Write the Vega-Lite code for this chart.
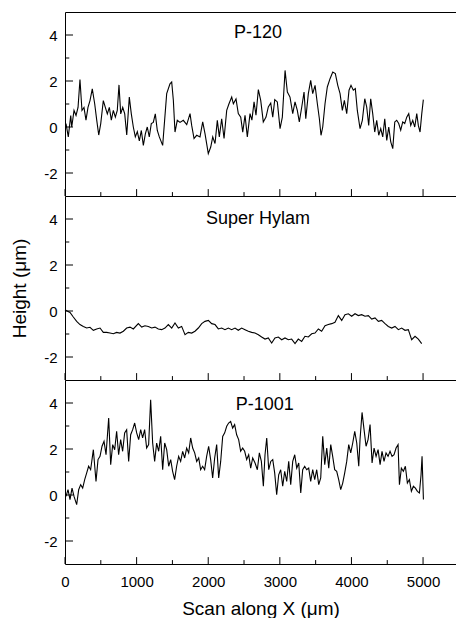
{
  "$schema": "https://vega.github.io/schema/vega-lite/v6.json",
  "padding": {"left": 10, "top": 12, "right": 0, "bottom": 0},
  "spacing": 0,
  "bounds": "flush",
  "config": {
    "view": {"stroke": null},
    "font": "Liberation Sans",
    "axis": {
      "domainColor": "black", "tickColor": "black", "labelColor": "black", "titleColor": "black",
      "labelFont": "Liberation Sans", "titleFont": "Liberation Sans",
      "labelFontSize": 15, "titleFontSize": 19, "titleFontWeight": "normal",
      "labelFlush": false, "grid": false
    },
    "line": {"color": "black", "strokeWidth": 1.1},
    "rule": {"color": "black", "strokeWidth": 1},
    "text": {"font": "Liberation Sans", "fontSize": 18, "color": "black"}
  },
  "datasets": {
    "xmajor": [{"t":0},{"t":1000},{"t":2000},{"t":3000},{"t":4000},{"t":5000}],
    "xminor": [{"t":500},{"t":1500},{"t":2500},{"t":3500},{"t":4500}],
    "ymajor": [{"v":-2},{"v":0},{"v":2},{"v":4}],
    "yminor": [{"v":-1},{"v":1},{"v":3}],
    "p120": [
      {"x":14,"h":0.15},{"x":46,"h":-0.43},{"x":80,"h":0.5},{"x":94,"h":0},{"x":126,"h":0.72},{"x":154,"h":0.5},{"x":182,"h":0.85},{"x":209,"h":2.06},{"x":237,"h":0.72},{"x":265,"h":0.85},{"x":293,"h":0.3},{"x":321,"h":0.85},{"x":349,"h":1.15},{"x":381,"h":1.66},{"x":415,"h":1.0},{"x":443,"h":0.3},{"x":471,"h":-0.35},{"x":499,"h":0.15},{"x":535,"h":1.15},{"x":563,"h":0.85},{"x":591,"h":0.57},{"x":619,"h":0.85},{"x":647,"h":0.3},{"x":675,"h":0.72},{"x":703,"h":0.43},{"x":730,"h":0.72},{"x":754,"h":1.83},{"x":778,"h":0.57},{"x":806,"h":0.85},{"x":834,"h":0.57},{"x":862,"h":-0.35},{"x":898,"h":1.3},{"x":926,"h":0.57},{"x":954,"h":0},{"x":982,"h":-0.43},{"x":1010,"h":-0.2},{"x":1038,"h":-0.6},{"x":1066,"h":-0.15},{"x":1094,"h":-0.8},{"x":1122,"h":-0.3},{"x":1149,"h":0},{"x":1177,"h":-0.43},{"x":1205,"h":0.15},{"x":1233,"h":0.2},{"x":1261,"h":0.57},{"x":1289,"h":-0.15},{"x":1317,"h":-0.43},{"x":1364,"h":-0.8},{"x":1420,"h":1.45},{"x":1466,"h":1.88},{"x":1490,"h":1.96},{"x":1513,"h":1.16},{"x":1536,"h":-0.22},{"x":1568,"h":0.29},{"x":1606,"h":0.2},{"x":1652,"h":0.29},{"x":1700,"h":0.1},{"x":1746,"h":0.58},{"x":1769,"h":0.07},{"x":1802,"h":-0.5},{"x":1839,"h":-0.36},{"x":1885,"h":-0.43},{"x":1923,"h":0.22},{"x":1955,"h":-0.29},{"x":2001,"h":-1.16},{"x":2035,"h":-0.87},{"x":2063,"h":-0.43},{"x":2095,"h":-0.72},{"x":2127,"h":0.29},{"x":2155,"h":-0.43},{"x":2188,"h":0.36},{"x":2221,"h":-0.5},{"x":2258,"h":0.72},{"x":2290,"h":1.01},{"x":2328,"h":1.3},{"x":2351,"h":1.01},{"x":2388,"h":1.22},{"x":2420,"h":0.58},{"x":2454,"h":0.43},{"x":2482,"h":-0.22},{"x":2514,"h":0.51},{"x":2546,"h":-0.43},{"x":2584,"h":0.58},{"x":2610,"h":0.3},{"x":2640,"h":1.09},{"x":2667,"h":0.51},{"x":2700,"h":1.63},{"x":2733,"h":1.16},{"x":2769,"h":0.22},{"x":2807,"h":0.43},{"x":2839,"h":0.87},{"x":2873,"h":1.04},{"x":2901,"h":0.43},{"x":2929,"h":1.19},{"x":2965,"h":1.09},{"x":3003,"h":-0.07},{"x":3035,"h":0.43},{"x":3073,"h":2.46},{"x":3105,"h":1.52},{"x":3142,"h":1.3},{"x":3180,"h":0.58},{"x":3212,"h":1.09},{"x":3244,"h":0.72},{"x":3272,"h":0.22},{"x":3306,"h":0.87},{"x":3338,"h":1.52},{"x":3362,"h":0.36},{"x":3398,"h":1.45},{"x":3431,"h":2.03},{"x":3459,"h":1.45},{"x":3492,"h":1.81},{"x":3524,"h":1.01},{"x":3552,"h":0.36},{"x":3575,"h":-0.36},{"x":3599,"h":0},{"x":3631,"h":1.01},{"x":3663,"h":1.74},{"x":3701,"h":2.1},{"x":3739,"h":2.39},{"x":3775,"h":2.32},{"x":3809,"h":1.81},{"x":3841,"h":1.45},{"x":3873,"h":0.72},{"x":3901,"h":1.16},{"x":3934,"h":0.58},{"x":3966,"h":1.6},{"x":3994,"h":1.81},{"x":4026,"h":1.6},{"x":4054,"h":1.67},{"x":4082,"h":0.72},{"x":4120,"h":-0.07},{"x":4152,"h":0.29},{"x":4186,"h":1.23},{"x":4213,"h":0.87},{"x":4241,"h":0.07},{"x":4269,"h":1.23},{"x":4297,"h":0.58},{"x":4325,"h":-0.22},{"x":4353,"h":0.29},{"x":4381,"h":-0.36},{"x":4409,"h":-0.07},{"x":4437,"h":-0.43},{"x":4465,"h":0.36},{"x":4493,"h":-0.58},{"x":4521,"h":0},{"x":4549,"h":-0.65},{"x":4577,"h":-0.94},{"x":4605,"h":0.22},{"x":4632,"h":0.29},{"x":4660,"h":0.15},{"x":4688,"h":-0.14},{"x":4716,"h":0.22},{"x":4744,"h":0.15},{"x":4772,"h":0.43},{"x":4800,"h":0.58},{"x":4828,"h":0.07},{"x":4856,"h":0.29},{"x":4884,"h":0},{"x":4912,"h":0.58},{"x":4934,"h":0.07},{"x":4958,"h":-0.22},{"x":4982,"h":0.58},{"x":5004,"h":1.19}
    ],
    "hylam": [
      {"x":0,"h":0.05},{"x":23,"h":0.01},{"x":70,"h":-0.06},{"x":116,"h":-0.26},{"x":163,"h":-0.45},{"x":209,"h":-0.59},{"x":256,"h":-0.67},{"x":303,"h":-0.74},{"x":349,"h":-0.71},{"x":396,"h":-0.84},{"x":442,"h":-0.78},{"x":489,"h":-0.74},{"x":535,"h":-0.93},{"x":582,"h":-0.93},{"x":628,"h":-0.96},{"x":675,"h":-0.99},{"x":721,"h":-0.93},{"x":768,"h":-0.96},{"x":815,"h":-0.88},{"x":861,"h":-0.74},{"x":908,"h":-0.7},{"x":954,"h":-0.78},{"x":1024,"h":-0.55},{"x":1071,"h":-0.7},{"x":1117,"h":-0.64},{"x":1164,"h":-0.67},{"x":1210,"h":-0.74},{"x":1257,"h":-0.7},{"x":1303,"h":-0.78},{"x":1350,"h":-0.81},{"x":1396,"h":-0.74},{"x":1443,"h":-0.59},{"x":1490,"h":-0.74},{"x":1536,"h":-0.52},{"x":1583,"h":-0.74},{"x":1629,"h":-0.67},{"x":1676,"h":-1.03},{"x":1722,"h":-0.93},{"x":1769,"h":-0.96},{"x":1815,"h":-0.88},{"x":1862,"h":-0.74},{"x":1909,"h":-0.55},{"x":1955,"h":-0.45},{"x":2002,"h":-0.41},{"x":2048,"h":-0.55},{"x":2095,"h":-0.59},{"x":2141,"h":-0.78},{"x":2188,"h":-0.74},{"x":2234,"h":-0.81},{"x":2281,"h":-0.74},{"x":2327,"h":-0.81},{"x":2374,"h":-0.74},{"x":2420,"h":-0.84},{"x":2467,"h":-0.74},{"x":2514,"h":-0.81},{"x":2560,"h":-0.88},{"x":2607,"h":-0.93},{"x":2653,"h":-0.96},{"x":2700,"h":-1.03},{"x":2746,"h":-1.13},{"x":2793,"h":-1.22},{"x":2839,"h":-1.17},{"x":2886,"h":-1.39},{"x":2932,"h":-1.17},{"x":2979,"h":-1.13},{"x":3026,"h":-1.25},{"x":3072,"h":-1.17},{"x":3119,"h":-1.25},{"x":3165,"h":-1.22},{"x":3212,"h":-1.42},{"x":3258,"h":-1.22},{"x":3305,"h":-1.32},{"x":3351,"h":-1.1},{"x":3398,"h":-1.13},{"x":3445,"h":-0.99},{"x":3491,"h":-0.96},{"x":3538,"h":-0.78},{"x":3584,"h":-0.88},{"x":3631,"h":-0.64},{"x":3677,"h":-0.59},{"x":3724,"h":-0.55},{"x":3770,"h":-0.49},{"x":3817,"h":-0.2},{"x":3864,"h":-0.41},{"x":3910,"h":-0.16},{"x":3957,"h":-0.12},{"x":4003,"h":-0.23},{"x":4050,"h":-0.12},{"x":4096,"h":-0.2},{"x":4143,"h":-0.16},{"x":4189,"h":-0.23},{"x":4236,"h":-0.2},{"x":4283,"h":-0.35},{"x":4329,"h":-0.3},{"x":4376,"h":-0.45},{"x":4422,"h":-0.41},{"x":4469,"h":-0.55},{"x":4515,"h":-0.67},{"x":4562,"h":-0.74},{"x":4608,"h":-0.67},{"x":4655,"h":-0.81},{"x":4701,"h":-0.74},{"x":4748,"h":-0.84},{"x":4794,"h":-0.81},{"x":4841,"h":-1.25},{"x":4888,"h":-1.1},{"x":4934,"h":-1.22},{"x":4981,"h":-1.42}
    ],
    "p1001": [
      {"x":14,"h":-0.06},{"x":42,"h":0.23},{"x":70,"h":-0.2},{"x":98,"h":0.3},{"x":126,"h":-0.06},{"x":163,"h":-0.42},{"x":191,"h":0.23},{"x":219,"h":0.45},{"x":247,"h":0.3},{"x":275,"h":0.67},{"x":303,"h":0.96},{"x":330,"h":1.25},{"x":358,"h":1.1},{"x":396,"h":1.97},{"x":433,"h":0.59},{"x":461,"h":1.54},{"x":489,"h":1.68},{"x":517,"h":2.12},{"x":545,"h":2.33},{"x":573,"h":1.75},{"x":610,"h":3.35},{"x":638,"h":1.32},{"x":666,"h":2.19},{"x":694,"h":1.97},{"x":721,"h":2.77},{"x":749,"h":1.75},{"x":777,"h":2.41},{"x":805,"h":1.9},{"x":833,"h":2.7},{"x":861,"h":2.84},{"x":889,"h":1.46},{"x":917,"h":2.62},{"x":945,"h":2.84},{"x":973,"h":3.13},{"x":1001,"h":2.7},{"x":1029,"h":2.41},{"x":1057,"h":2.84},{"x":1084,"h":2.48},{"x":1112,"h":2.84},{"x":1140,"h":2.04},{"x":1168,"h":2.19},{"x":1196,"h":4.14},{"x":1224,"h":2.26},{"x":1252,"h":1.46},{"x":1280,"h":2.26},{"x":1308,"h":1.9},{"x":1336,"h":2.55},{"x":1364,"h":1.1},{"x":1392,"h":2.26},{"x":1420,"h":1.97},{"x":1448,"h":1.25},{"x":1476,"h":1.54},{"x":1503,"h":1.03},{"x":1531,"h":0.67},{"x":1559,"h":1.25},{"x":1587,"h":1.68},{"x":1615,"h":1.46},{"x":1643,"h":1.9},{"x":1671,"h":1.61},{"x":1699,"h":2.04},{"x":1727,"h":1.83},{"x":1755,"h":2.48},{"x":1783,"h":2.04},{"x":1811,"h":1.83},{"x":1839,"h":1.46},{"x":1867,"h":1.61},{"x":1894,"h":1.1},{"x":1922,"h":1.25},{"x":1950,"h":1.1},{"x":1978,"h":1.68},{"x":2006,"h":2.12},{"x":2034,"h":1.54},{"x":2062,"h":0.74},{"x":2090,"h":1.61},{"x":2118,"h":2.19},{"x":2146,"h":0.74},{"x":2174,"h":1.46},{"x":2202,"h":2.55},{"x":2230,"h":2.7},{"x":2258,"h":2.99},{"x":2285,"h":3.13},{"x":2313,"h":3.2},{"x":2341,"h":2.91},{"x":2369,"h":3.06},{"x":2397,"h":2.62},{"x":2425,"h":2.41},{"x":2453,"h":1.9},{"x":2481,"h":2.04},{"x":2509,"h":1.9},{"x":2537,"h":1.54},{"x":2565,"h":1.75},{"x":2593,"h":1.17},{"x":2621,"h":1.61},{"x":2654,"h":1.39},{"x":2686,"h":1.1},{"x":2714,"h":1.83},{"x":2742,"h":1.46},{"x":2770,"h":0.38},{"x":2793,"h":1.75},{"x":2817,"h":2.48},{"x":2845,"h":1.1},{"x":2873,"h":1.46},{"x":2901,"h":1.54},{"x":2928,"h":0.96},{"x":2956,"h":0.01},{"x":2984,"h":0.88},{"x":3012,"h":1.1},{"x":3040,"h":0.38},{"x":3068,"h":1.03},{"x":3096,"h":0.59},{"x":3124,"h":1.46},{"x":3152,"h":0.45},{"x":3180,"h":1.46},{"x":3208,"h":1.75},{"x":3236,"h":1.17},{"x":3264,"h":1.39},{"x":3292,"h":0.09},{"x":3319,"h":1.1},{"x":3347,"h":1.25},{"x":3375,"h":1.1},{"x":3403,"h":1.17},{"x":3431,"h":0.59},{"x":3459,"h":1.1},{"x":3487,"h":0.67},{"x":3515,"h":1.1},{"x":3543,"h":0.45},{"x":3571,"h":0.74},{"x":3599,"h":2.55},{"x":3627,"h":1.32},{"x":3655,"h":2.04},{"x":3683,"h":1.17},{"x":3711,"h":2.19},{"x":3738,"h":1.68},{"x":3766,"h":1.1},{"x":3794,"h":1.03},{"x":3822,"h":0.67},{"x":3850,"h":0.23},{"x":3878,"h":0.52},{"x":3906,"h":0.96},{"x":3934,"h":1.46},{"x":3962,"h":2.19},{"x":3990,"h":1.83},{"x":4018,"h":2.26},{"x":4046,"h":2.77},{"x":4074,"h":2.26},{"x":4102,"h":1.25},{"x":4120,"h":2.41},{"x":4148,"h":3.59},{"x":4176,"h":2.84},{"x":4204,"h":2.12},{"x":4232,"h":2.41},{"x":4260,"h":3.06},{"x":4288,"h":1.39},{"x":4316,"h":2.04},{"x":4344,"h":1.68},{"x":4372,"h":1.97},{"x":4400,"h":1.32},{"x":4427,"h":1.9},{"x":4455,"h":1.46},{"x":4483,"h":1.83},{"x":4511,"h":1.68},{"x":4539,"h":1.9},{"x":4567,"h":1.68},{"x":4595,"h":1.75},{"x":4623,"h":2.04},{"x":4651,"h":2.19},{"x":4670,"h":0.45},{"x":4697,"h":1.17},{"x":4725,"h":1.03},{"x":4753,"h":1.25},{"x":4781,"h":0.52},{"x":4809,"h":0.67},{"x":4837,"h":0.16},{"x":4865,"h":0.38},{"x":4893,"h":0.3},{"x":4921,"h":0.16},{"x":4949,"h":0.09},{"x":4972,"h":0.88},{"x":4986,"h":1.68},{"x":5005,"h":-0.2}
    ]
  },
  "vconcat": [
    {
      "width": 391, "height": 184,
      "layer": [
        {"data": {"name": "p120"}, "mark": {"type": "line"},
         "encoding": {
           "x": {"field": "x", "type": "quantitative", "scale": {"domain": [0, 5460], "nice": false, "zero": false},
                 "axis": {"orient": "bottom", "ticks": false, "labels": false, "title": null}},
           "y": {"field": "h", "type": "quantitative", "scale": {"domain": [-3, 5], "nice": false, "zero": false},
                 "axis": {"orient": "left", "values": [-2,0,2,4], "ticks": false, "labelPadding": 8, "labelExpr": "'' + datum.value", "title": null}}
         }},
        {"data": {"name": "xmajor"}, "mark": {"type": "rule"},
         "encoding": {"x": {"field": "t", "type": "quantitative", "axis": null}, "y": {"datum": -3, "axis": null}, "y2": {"datum": -2.7}}},
        {"data": {"name": "xminor"}, "mark": {"type": "rule"},
         "encoding": {"x": {"field": "t", "type": "quantitative", "axis": null}, "y": {"datum": -3, "axis": null}, "y2": {"datum": -2.83}}},
        {"data": {"name": "ymajor"}, "mark": {"type": "rule"},
         "encoding": {"y": {"field": "v", "type": "quantitative", "axis": null}, "x": {"datum": 0, "axis": null}, "x2": {"datum": 112}}},
        {"data": {"name": "yminor"}, "mark": {"type": "rule"},
         "encoding": {"y": {"field": "v", "type": "quantitative", "axis": null}, "x": {"datum": 0, "axis": null}, "x2": {"datum": 60}}},
        {"data": {"values": [{"label": "P-120"}]},
         "mark": {"type": "text", "baseline": "alphabetic", "align": "center"},
         "encoding": {
           "x": {"datum": 2695, "type": "quantitative", "axis": {"orient": "top", "ticks": false, "labels": false, "domain": true, "title": null}},
           "y": {"datum": 3.89, "type": "quantitative", "axis": null},
           "text": {"field": "label"}
         }}
      ],
      "resolve": {"axis": {"x": "independent", "y": "independent"}}
    },
    {
      "width": 391, "height": 184,
      "layer": [
        {"data": {"name": "hylam"}, "mark": {"type": "line"},
         "encoding": {
           "x": {"field": "x", "type": "quantitative", "scale": {"domain": [0, 5460], "nice": false, "zero": false},
                 "axis": {"orient": "bottom", "ticks": false, "labels": false, "title": null}},
           "y": {"field": "h", "type": "quantitative", "scale": {"domain": [-3, 5], "nice": false, "zero": false},
                 "axis": {"orient": "left", "values": [-2,0,2,4], "ticks": false, "labelPadding": 8, "labelExpr": "'' + datum.value", "title": "Height (μm)", "titlePadding": 14}}
         }},
        {"data": {"name": "xmajor"}, "mark": {"type": "rule"},
         "encoding": {"x": {"field": "t", "type": "quantitative", "axis": null}, "y": {"datum": -3, "axis": null}, "y2": {"datum": -2.7}}},
        {"data": {"name": "xminor"}, "mark": {"type": "rule"},
         "encoding": {"x": {"field": "t", "type": "quantitative", "axis": null}, "y": {"datum": -3, "axis": null}, "y2": {"datum": -2.83}}},
        {"data": {"name": "ymajor"}, "mark": {"type": "rule"},
         "encoding": {"y": {"field": "v", "type": "quantitative", "axis": null}, "x": {"datum": 0, "axis": null}, "x2": {"datum": 112}}},
        {"data": {"name": "yminor"}, "mark": {"type": "rule"},
         "encoding": {"y": {"field": "v", "type": "quantitative", "axis": null}, "x": {"datum": 0, "axis": null}, "x2": {"datum": 60}}},
        {"data": {"values": [{"label": "Super Hylam"}]},
         "mark": {"type": "text", "baseline": "alphabetic", "align": "center"},
         "encoding": {
           "x": {"datum": 2695, "type": "quantitative", "axis": null},
           "y": {"datum": 3.8, "type": "quantitative", "axis": null},
           "text": {"field": "label"}
         }}
      ],
      "resolve": {"axis": {"x": "independent", "y": "independent"}}
    },
    {
      "width": 391, "height": 184,
      "layer": [
        {"data": {"name": "p1001"}, "mark": {"type": "line"},
         "encoding": {
           "x": {"field": "x", "type": "quantitative", "scale": {"domain": [0, 5460], "nice": false, "zero": false},
                 "axis": {"orient": "bottom", "values": [0,1000,2000,3000,4000,5000], "ticks": false, "labelPadding": 10, "labelExpr": "'' + datum.value", "title": "Scan along X (μm)", "titlePadding": 10}},
           "y": {"field": "h", "type": "quantitative", "scale": {"domain": [-3, 5], "nice": false, "zero": false},
                 "axis": {"orient": "left", "values": [-2,0,2,4], "ticks": false, "labelPadding": 8, "labelExpr": "'' + datum.value", "title": null}}
         }},
        {"data": {"name": "xmajor"}, "mark": {"type": "rule"},
         "encoding": {"x": {"field": "t", "type": "quantitative", "axis": null}, "y": {"datum": -3, "axis": null}, "y2": {"datum": -2.7}}},
        {"data": {"name": "xminor"}, "mark": {"type": "rule"},
         "encoding": {"x": {"field": "t", "type": "quantitative", "axis": null}, "y": {"datum": -3, "axis": null}, "y2": {"datum": -2.83}}},
        {"data": {"name": "ymajor"}, "mark": {"type": "rule"},
         "encoding": {"y": {"field": "v", "type": "quantitative", "axis": null}, "x": {"datum": 0, "axis": null}, "x2": {"datum": 112}}},
        {"data": {"name": "yminor"}, "mark": {"type": "rule"},
         "encoding": {"y": {"field": "v", "type": "quantitative", "axis": null}, "x": {"datum": 0, "axis": null}, "x2": {"datum": 60}}},
        {"data": {"values": [{"label": "P-1001"}]},
         "mark": {"type": "text", "baseline": "alphabetic", "align": "center"},
         "encoding": {
           "x": {"datum": 2789, "type": "quantitative", "axis": null},
           "y": {"datum": 3.68, "type": "quantitative", "axis": null},
           "text": {"field": "label"}
         }}
      ],
      "resolve": {"axis": {"x": "independent", "y": "independent"}}
    }
  ]
}
